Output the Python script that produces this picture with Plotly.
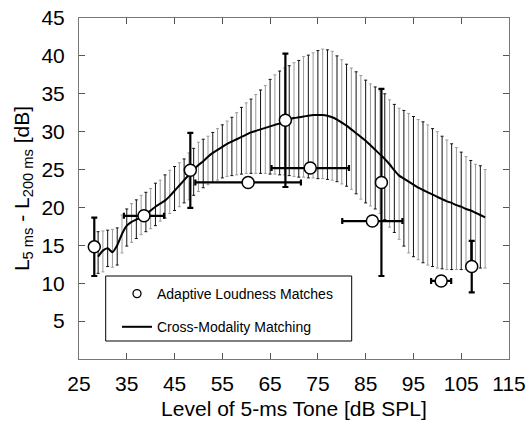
import plotly.graph_objects as go

# Cross-modality matching: level (dB SPL), mean, upper and lower limits (dB)
cm_level = list(range(29, 111))
cm_mean = [13.5, 14.3, 14.6, 14.1, 15.0, 16.5, 17.6, 18.1, 18.4, 18.7,
           19.1, 19.6, 20.1, 20.5, 20.9, 21.5, 22.2, 22.9, 23.6, 24.3,
           25.0, 25.6, 26.1, 26.7, 27.2, 27.6, 28.0, 28.4, 28.7, 29.0,
           29.3, 29.6, 29.9, 30.1, 30.3, 30.5, 30.7, 30.9, 31.1, 31.4,
           31.6, 31.8, 31.9, 32.0, 32.1, 32.2, 32.2, 32.2, 32.1, 31.9,
           31.6, 31.2, 30.8, 30.3, 29.8, 29.3, 28.8, 28.2, 27.6, 27.0,
           26.4, 25.7, 24.9, 24.2, 23.8, 23.4, 23.0, 22.6, 22.3, 22.0,
           21.7, 21.4, 21.1, 20.8, 20.6, 20.3, 20.1, 19.8, 19.6, 19.3,
           19.0, 18.7]
cm_upper = [16.8, 16.9, 17.0, 17.1, 17.3, 19.0, 19.8, 20.5, 21.0, 21.6,
            22.0, 22.5, 23.2, 23.6, 24.3, 24.9, 25.4, 25.9, 26.4, 27.2,
            27.8, 28.6, 29.0, 29.4, 29.9, 30.4, 30.9, 31.4, 31.9, 32.5,
            33.2, 33.8, 34.3, 34.9, 35.5, 36.1, 36.9, 37.5, 38.0, 38.4,
            38.7, 39.1, 39.4, 39.9, 40.1, 40.4, 40.7, 40.9, 40.8, 40.6,
            40.0, 39.5, 38.9, 38.4, 37.9, 37.4, 36.8, 36.3, 35.9, 35.4,
            35.0, 34.2, 33.6, 33.1, 32.8, 32.4, 32.0, 31.6, 31.3, 30.9,
            30.4, 30.0, 29.4, 28.9, 28.4, 27.9, 27.3, 26.7, 26.2, 25.7,
            25.5, 25.0]
cm_lower = [11.3, 11.5, 12.2, 12.1, 12.4, 14.0, 14.9, 15.4, 15.9, 16.4,
            16.8, 17.2, 17.6, 18.2, 18.6, 19.2, 19.6, 20.1, 20.6, 21.0,
            21.6, 22.1, 22.6, 23.0, 23.3, 23.6, 23.9, 24.1, 24.2, 24.3,
            24.4, 24.5, 24.5, 24.5, 24.5, 24.5, 24.4, 24.4, 24.3, 24.3,
            24.2, 24.1, 24.0, 24.0, 23.9, 23.9, 23.8, 23.8, 23.7, 23.6,
            23.4, 23.1, 22.8, 22.4, 21.8, 21.1, 20.6, 20.2, 19.8, 19.2,
            18.4, 17.4, 16.7, 15.8, 14.9, 14.0, 13.5, 13.1, 12.7, 12.4,
            12.2, 12.0, 11.9, 11.8, 11.8, 11.8, 11.8, 11.8, 11.9, 11.9,
            12.0, 12.0]

# Adaptive loudness matches
alm_level = [28.2, 38.6, 48.3, 60.4, 68.2, 73.4, 86.4, 88.3, 100.8, 107.2]
alm_diff = [14.8, 18.9, 24.9, 23.3, 31.5, 25.2, 18.2, 23.3, 10.3, 12.2]
alm_yerr = [3.85, 0, 4.95, 0, 8.8, 0, 0, 12.35, 0, 3.4]
alm_xerr = [0, 4.2, 0, 11.05, 0, 8.1, 6.3, 0, 2.1, 0]

x_ticks = [25, 35, 45, 55, 65, 75, 85, 95, 105, 115]
y_ticks = [5, 10, 15, 20, 25, 30, 35, 40, 45]

FONT = "Liberation Sans, Arial, Helvetica, sans-serif"

fig = go.Figure()

up_err = [u - m for u, m in zip(cm_upper, cm_mean)]
lo_err = [m - l for m, l in zip(cm_mean, cm_lower)]

for start, col in [(0, "#111111"), (1, "#9a9a9a")]:
    fig.add_trace(go.Scatter(
        x=cm_level[start::2], y=cm_mean[start::2], mode="markers",
        marker=dict(size=1, color="rgba(0,0,0,0)"),
        error_y=dict(type="data", symmetric=False,
                     array=up_err[start::2], arrayminus=lo_err[start::2],
                     color=col, thickness=1, width=1.5),
        showlegend=False, hoverinfo="skip"))

fig.add_trace(go.Scatter(
    x=cm_level, y=cm_mean, mode="lines",
    line=dict(color="black", width=2, shape="spline", smoothing=0.6),
    name="Cross-Modality Matching", legendgroup="b", legendrank=2))

fig.add_trace(go.Scatter(
    x=alm_level, y=alm_diff, mode="markers",
    marker=dict(size=12, color="white", line=dict(color="black", width=1.5)),
    error_y=dict(type="data", array=alm_yerr, color="black", thickness=2.2, width=3),
    error_x=dict(type="data", array=alm_xerr, color="black", thickness=2.2, width=3),
    showlegend=False))

fig.add_trace(go.Scatter(
    x=[None], y=[None], mode="markers",
    marker=dict(size=8, color="white", line=dict(color="black", width=1.3)),
    name="Adaptive Loudness Matches", legendgroup="a", legendrank=1))

L, R, T, B = 79, 22, 18, 62
W, H = 531, 421
pw, ph = W - L - R, H - T - B

def px(xp):
    return (xp - L) / pw

def py(yp):
    return (H - B - yp) / ph

fig.add_shape(type="rect", xref="paper", yref="paper",
              x0=px(105.7), x1=px(351.7), y0=py(341), y1=py(276),
              line=dict(color="black", width=1), fillcolor="white", layer="above")

axis_common = dict(showline=True, linecolor="#777777", linewidth=1, mirror="ticks",
                   ticks="inside", ticklen=6, tickcolor="#555555", showgrid=False,
                   zeroline=False, automargin=False,
                   tickfont=dict(size=21, color="black", family=FONT))

fig.update_xaxes(range=[25, 115], tickvals=x_ticks, ticklabelstandoff=6,
                 title=dict(text="Level of 5-ms Tone [dB SPL]", standoff=7,
                            font=dict(size=21, color="black", family=FONT)),
                 **axis_common)
fig.update_yaxes(range=[0, 45], tickvals=y_ticks, ticklabelstandoff=9,
                 title=dict(text="L<sub>5 ms</sub> - L<sub>200 ms</sub> [dB]", standoff=6,
                            font=dict(size=21, color="black", family=FONT)),
                 **axis_common)

fig.update_layout(
    width=W, height=H, autosize=False,
    margin=dict(l=L, r=R, t=T, b=B),
    paper_bgcolor="white", plot_bgcolor="white",
    font=dict(family=FONT, color="black"),
    legend=dict(x=px(117), y=py(278), xanchor="left", yanchor="top",
                bgcolor="rgba(0,0,0,0)", borderwidth=0, tracegroupgap=12,
                font=dict(size=14, family=FONT, color="black"), itemwidth=30),
)

fig.write_html("out.html")
